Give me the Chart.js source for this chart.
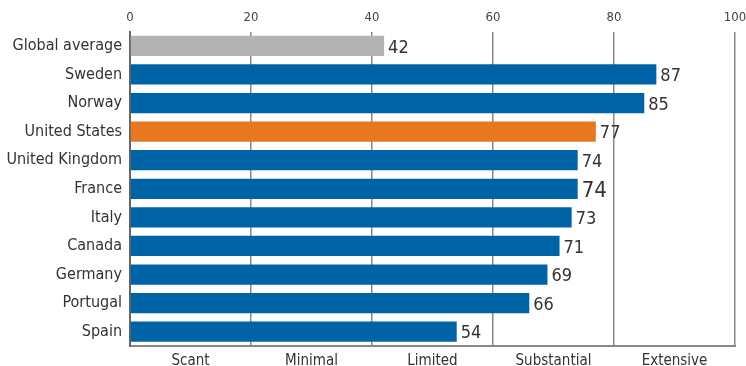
<!DOCTYPE html>
<html>
<head>
<meta charset="utf-8">
<script src="https://cdn.jsdelivr.net/npm/chart.js@4/dist/chart.umd.min.js"></script>
<style>
  html, body { margin: 0; padding: 0; background: #fff; }
  #wrap { width: 746px; height: 366px; }
</style>
</head>
<body>
<div id="wrap"><canvas id="chart"></canvas></div>
<script>
// data
var countries = ['Global average', 'Sweden', 'Norway', 'United States', 'United Kingdom', 'France', 'Italy', 'Canada', 'Germany', 'Portugal', 'Spain'];
var scores = [42, 87, 85, 77, 74, 74, 73, 71, 69, 66, 54];
var levels = ['Scant', 'Minimal', 'Limited', 'Substantial', 'Extensive'];
var levelMids = [10, 30, 50, 70, 90];

var FONT = "'Liberation Sans Narrow', 'DejaVu Sans Condensed', 'Liberation Sans', sans-serif";
var barColors = countries.map(function (c) {
    if (c === 'Global average') return '#b3b3b3';
    if (c === 'United States') return '#e87722';
    return '#0063a6';
});

// value text at the end of each bar
var valueLabels = {
    id: 'valueLabels',
    afterDatasetsDraw: function (chart) {
        var ctx = chart.ctx;
        var meta = chart.getDatasetMeta(0);
        ctx.save();
        ctx.fillStyle = '#333';
        ctx.textBaseline = 'middle';
        ctx.textAlign = 'left';
        meta.data.forEach(function (bar, i) {
            var size = countries[i] === 'France' ? 22 : 18;
            ctx.font = size + 'px ' + FONT;
            ctx.fillText(String(scores[i]), bar.x + 4, bar.y + 2);
        });
        ctx.restore();
    }
};

// let the "100" label hang into the margin like the original
function noRightPad(axis) { axis.paddingRight = 0; }

var ctx = document.getElementById('chart').getContext('2d');
var myChart = new Chart(ctx, {
    type: 'bar',
    data: {
        labels: countries,
        datasets: [{
            data: scores,
            backgroundColor: barColors,
            borderWidth: 0,
            xAxisID: 'x',
            barPercentage: 0.71,
            categoryPercentage: 1
        }]
    },
    options: {
        indexAxis: 'y',
        responsive: true,
        maintainAspectRatio: false,
        animation: false,
        layout: { padding: { top: 4, right: 11, bottom: -10, left: 0 } },
        plugins: {
            legend: { display: false },
            tooltip: { enabled: false }
        },
        scales: {
            x: {
                position: 'top',
                min: 0,
                max: 100,
                afterFit: noRightPad,
                ticks: {
                    stepSize: 20,
                    padding: 6,
                    color: '#444',
                    font: { family: FONT, size: 13 }
                },
                grid: { color: '#888', lineWidth: 1.5, drawTicks: false },
                border: { display: false }
            },
            x2: {
                type: 'linear',
                position: 'bottom',
                min: 0,
                max: 100,
                afterFit: noRightPad,
                afterBuildTicks: function (axis) {
                    axis.ticks = levelMids.map(function (v) { return { value: v }; });
                },
                ticks: {
                    padding: 6,
                    color: '#333',
                    font: { family: FONT, size: 15 },
                    callback: function (v) {
                        return levels[levelMids.indexOf(v)];
                    }
                },
                grid: { display: false, drawTicks: false },
                border: { display: true, color: '#888', width: 2 }
            },
            y: {
                afterFit: function (axis) { axis.width = 130; },
                ticks: {
                    color: '#333',
                    padding: 8,
                    font: { family: FONT, size: 16 }
                },
                grid: { display: false, drawTicks: false },
                border: { display: true, color: '#666', width: 2 }
            }
        }
    },
    plugins: [valueLabels]
});
</script>
</body>
</html>
